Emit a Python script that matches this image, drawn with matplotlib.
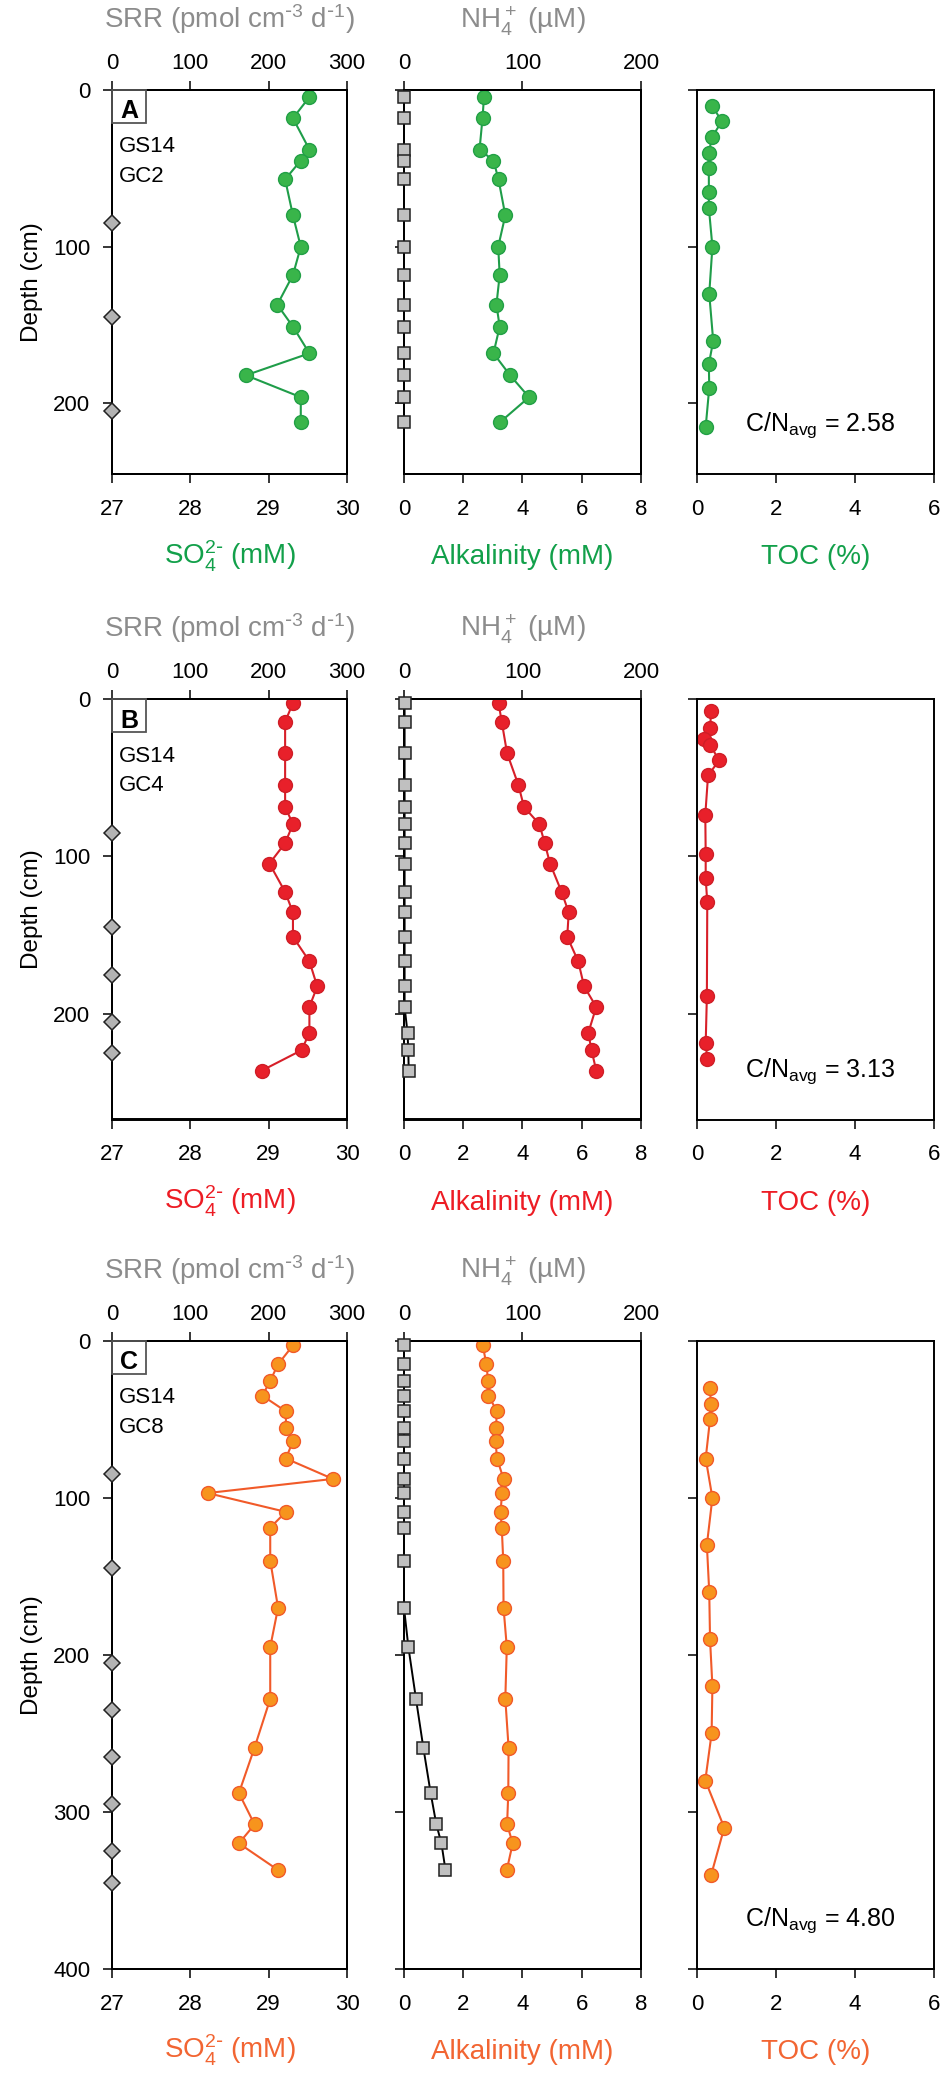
import matplotlib
matplotlib.use('Agg')
import matplotlib.pyplot as plt
from matplotlib.patches import Rectangle

plt.rcParams['font.family'] = ['Liberation Sans', 'DejaVu Sans']
plt.rcParams['mathtext.default'] = 'regular'

# ---- core A: GS14 GC2 ----
depth_a = [4.5, 18, 38, 45, 57, 80, 100, 118, 137, 151, 168, 182, 196, 212]
so4_a = [29.52, 29.31, 29.52, 29.41, 29.21, 29.31, 29.41, 29.31, 29.11, 29.31, 29.52, 28.71, 29.41, 29.41]
alk_a = [2.70, 2.65, 2.55, 3.02, 3.19, 3.42, 3.18, 3.23, 3.12, 3.23, 3.02, 3.58, 4.22, 3.24]
nh4_a = [0, 0, 0, 0, 0, 0, 0, 0, 0, 0, 0, 0, 0, 0]
toc_depth_a = [10, 20, 30, 40, 50, 65, 75, 100, 130, 160, 175, 190, 215]
toc_a = [0.38, 0.63, 0.38, 0.30, 0.30, 0.30, 0.30, 0.39, 0.31, 0.41, 0.30, 0.31, 0.22]
srr_depth_a = [85, 145, 205]
srr_a = [0, 0, 0]

# ---- core B: GS14 GC4 ----
depth_b = [2.5, 14.5, 34.5, 54.5, 68.5, 79.5, 91.5, 104.5, 122.5, 135.5, 151, 166.5, 182.5, 195.5, 212, 223, 236]
so4_b = [29.31, 29.21, 29.21, 29.21, 29.21, 29.31, 29.21, 29.01, 29.21, 29.31, 29.31, 29.52, 29.62, 29.52, 29.52, 29.42, 28.91]
alk_b = [3.19, 3.30, 3.48, 3.86, 4.05, 4.57, 4.75, 4.93, 5.32, 5.56, 5.51, 5.88, 6.08, 6.49, 6.22, 6.33, 6.49]
nh4_b = [0.5, 0.5, 0.5, 0.5, 0.5, 0.5, 0.5, 0.5, 0.5, 0.5, 0.5, 0.5, 0.5, 0.5, 3, 3.6, 4]
toc_depth_b = [7.5, 18.5, 25.5, 29, 39, 48.5, 73.5, 98.7, 113.8, 129, 188.6, 218.7, 228.4]
toc_b = [0.36, 0.33, 0.18, 0.33, 0.56, 0.28, 0.21, 0.22, 0.22, 0.26, 0.25, 0.22, 0.26]
srr_depth_b = [85, 145, 175, 205, 225]
srr_b = [0, 0, 0, 0, 0]

# ---- core C: GS14 GC8 ----
depth_c = [3, 15, 25.5, 35, 45, 55.5, 64, 75, 88, 97, 109, 119, 140, 170, 195, 228, 259, 288, 308, 320, 337]
so4_c = [29.31, 29.12, 29.02, 28.92, 29.22, 29.22, 29.31, 29.22, 29.82, 28.22, 29.22, 29.02, 29.02,
         29.12, 29.02, 29.02, 28.82, 28.62, 28.82, 28.62, 29.12]
alk_c = [2.66, 2.78, 2.84, 2.85, 3.14, 3.10, 3.09, 3.14, 3.36, 3.31, 3.26, 3.30, 3.35,
         3.36, 3.47, 3.42, 3.53, 3.52, 3.48, 3.67, 3.47]
nh4_c = [0, 0, 0, 0, 0, 0, 0, 0, 0, 0, 0, 0, 0, 0, 3.7, 10.1, 16.3, 22.5, 27.3, 31.6, 35]
toc_depth_c = [30, 40, 50, 75, 100, 130, 160, 190, 220, 250, 280, 310, 340]
toc_c = [0.33, 0.35, 0.33, 0.22, 0.39, 0.25, 0.31, 0.33, 0.39, 0.37, 0.21, 0.69, 0.36]
srr_depth_c = [85, 145, 205, 235, 265, 295, 325, 345]
srr_c = [0, 0, 0, 0, 0, 0, 0, 0]

panel_letters = ['A', 'B', 'C']
core_names = ['GC2', 'GC4', 'GC8']
cn_avg = ['2.58', '3.13', '4.80']
depth_max = [245, 267, 400]
depth_ticks = [[0, 100, 200], [0, 100, 200], [0, 100, 200, 300, 400]]

# colours per core: line, marker face, marker edge, label
green = ('#1f9d49', '#39b54a', '#22a046', '#12a04a')
red = ('#d71f29', '#e8202a', '#cf1e27', '#ed1c24')
orange = ('#f15a29', '#f7941d', '#f15a29', '#f26532')
core_colors = [green, red, orange]

cores = [
    (depth_a, so4_a, alk_a, nh4_a, toc_depth_a, toc_a, srr_depth_a, srr_a),
    (depth_b, so4_b, alk_b, nh4_b, toc_depth_b, toc_b, srr_depth_b, srr_b),
    (depth_c, so4_c, alk_c, nh4_c, toc_depth_c, toc_c, srr_depth_c, srr_c),
]

W, H = 945, 2073
fig = plt.figure(figsize=(W / 100, H / 100), dpi=100)

def fx(px):
    return px / W

def fy(py):
    return 1 - py / H

cols = [(112, 347), (404, 641), (697, 934)]
rows = [(90, 474), (699, 1119.5), (1340.7, 1969)]
grey_txt = '#8c8c8c'

def style(ax, ylabels=True):
    for s in ax.spines.values():
        s.set_linewidth(1.4)
    ax.tick_params(direction='out', length=6.5, width=1.1, labelsize=16)
    ax.tick_params(axis='x', pad=11.5)
    ax.tick_params(axis='y', pad=9, labelleft=ylabels)

def style_top(axt):
    for s in axt.spines.values():
        s.set_linewidth(1.4)
    axt.tick_params(axis='x', direction='out', length=6.5, width=1.1, labelsize=16, pad=5)

for i in range(3):
    depth, so4, alk, nh4, tdep, toc, sdep, srr = cores[i]
    lc, fc, ec, tc = core_colors[i]
    top, bot = rows[i]
    axs = []
    for j, (l, r) in enumerate(cols):
        ax = fig.add_axes([fx(l), fy(bot), (r - l) / W, (bot - top) / H])
        ax.set_ylim(depth_max[i], 0)
        ax.set_yticks(depth_ticks[i])
        style(ax, ylabels=(j == 0))
        axs.append(ax)
    ax1, ax2, ax3 = axs

    # sulfate + SRR
    ax1.plot(so4, depth, '-o', color=lc, lw=1.5, ms=10, mfc=fc, mec=ec, mew=1.0)
    ax1.set_xlim(27, 30)
    ax1.set_xticks([27, 28, 29, 30])
    ax1t = ax1.twiny()
    ax1t.plot(srr, sdep, 'D', ms=8, mfc='#b3b3b3', mec='#222222', mew=1.1, clip_on=False, zorder=5)
    ax1t.set_xlim(0, 300)
    ax1t.set_xticks([0, 100, 200, 300])
    style_top(ax1t)

    # alkalinity + ammonium
    ax2.plot(alk, depth, '-o', color=lc, lw=1.5, ms=10, mfc=fc, mec=ec, mew=1.0)
    ax2.set_xlim(0, 8)
    ax2.set_xticks([0, 2, 4, 6, 8])
    ax2t = ax2.twiny()
    ax2t.plot(nh4, depth, '-s', color='black', lw=1.4, ms=8, mfc='#c0c0c0', mec='#222222', mew=1.1,
              clip_on=False, zorder=5)
    ax2t.set_xlim(0, 200)
    ax2t.set_xticks([0, 100, 200])
    style_top(ax2t)

    # TOC
    ax3.plot(toc, tdep, '-o', color=lc, lw=1.5, ms=10, mfc=fc, mec=ec, mew=1.0, clip_on=False)
    ax3.set_xlim(0, 6)
    ax3.set_xticks([0, 2, 4, 6])

    # axis titles
    fig.text(fx(229.5), fy(top - 62), r'SRR (pmol cm$^{\text{-}3}$ d$^{\text{-}1}$)', color=grey_txt,
             fontsize=20, ha='center', va='baseline')
    fig.text(fx(522.5), fy(top - 62), 'NH$_4^+$ (\u00b5M)', color=grey_txt,
             fontsize=20, ha='center', va='baseline')
    fig.text(fx(229.5), fy(bot + 90), r'SO$_4^{2\text{-}}$ (mM)', color=tc, fontsize=20,
             ha='center', va='baseline')
    fig.text(fx(522.5), fy(bot + 90), 'Alkalinity (mM)', color=tc, fontsize=20, ha='center', va='baseline')
    fig.text(fx(815.5), fy(bot + 90), 'TOC (%)', color=tc, fontsize=20, ha='center', va='baseline')
    fig.text(fx(32), fy((top + bot) / 2), 'Depth (cm)', rotation=90, fontsize=17.5,
             ha='center', va='center')

    # panel tag and core name
    fig.patches.append(Rectangle((fx(112), fy(top + 33)), 34 / W, 33 / H, transform=fig.transFigure,
                                 fill=False, edgecolor='#555555', lw=1.3, zorder=10))
    fig.text(fx(129), fy(top + 28.5), panel_letters[i], fontsize=18, fontweight='bold',
             ha='center', va='baseline')
    fig.text(fx(119), fy(top + 62.5), 'GS14', fontsize=16, ha='left', va='baseline')
    fig.text(fx(119), fy(top + 92), core_names[i], fontsize=16, ha='left', va='baseline')
    fig.text(fx(745), fy(bot - 43), 'C/N$_{avg}$ = ' + cn_avg[i], fontsize=18, ha='left', va='baseline')

fig.savefig('out.png', dpi=100)
